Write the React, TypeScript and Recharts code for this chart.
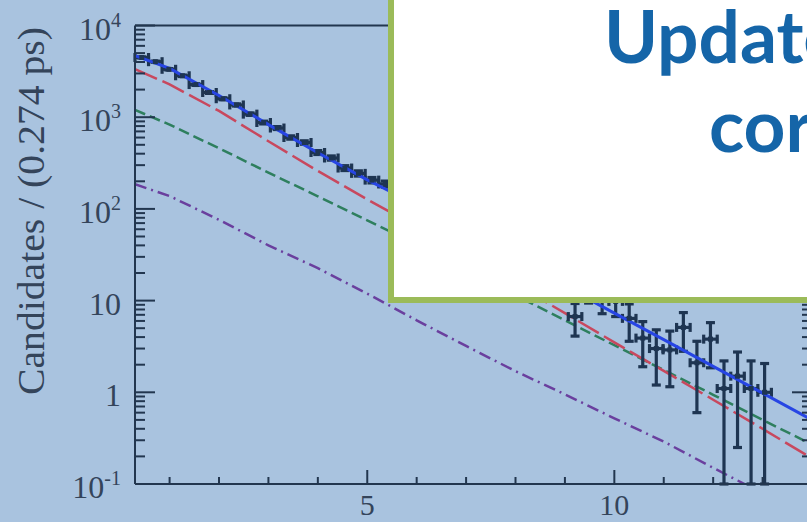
import React from "react";
import { ComposedChart, Line, Scatter, XAxis, YAxis, ErrorBar } from "recharts";

const X_MIN = 0.3;
const X_MAX = 14;
const Y_MIN = 0.1;
const Y_MAX = 10000;
const BIN_WIDTH = 0.274;

// candidates per 0.274 ps bin (bins 19-31 sit under the white box, estimated)
const binCounts = [
  4480, 4030, 3330, 2830, 2270, 1860, 1590, 1360, 1080, 875, 762, 601, 530, 412, 359, 279, 244, 206, 187,
  152, 128, 106, 84, 72, 57, 49, 38, 33, 26, 23, 17, 15,
  6.7, 13, 10.5, 9.8, 6.4, 3.9, 3.0, 2.9, 5.1, 2.1, 3.8, 1.1, 1.5, 1.1, 1.0,
];
const binErrors = [
  67, 63, 58, 53, 48, 43, 40, 37, 33, 30, 28, 25, 23, 20, 19, 17, 16, 14, 14,
  12, 11, 10, 9.2, 8.5, 7.5, 7, 6.2, 5.7, 5.1, 4.8, 4.1, 3.9,
  2.6, 3.6, 3.3, 3.1, 2.8, 2.0, 1.8, 1.75, 2.3, 1.5, 1.95, 1.1, 1.25, 1.1, 1.06,
];

// fit components, read at these decay times
const curveX = [0.3, 1, 2, 3, 4, 5, 6, 7, 8, 9, 10, 11, 12, 13, 14];
const totalFit = [4700, 3410, 1726, 830, 409, 207, 111, 56, 28.1, 14.3, 7.3, 3.75, 1.92, 0.98, 0.5];
const redComponent = [3350, 2280, 1170, 547, 259, 127, 64, 31, 15, 7.3, 3.5, 1.71, 0.83, 0.4, 0.19];
const greenComponent = [1200, 830, 458, 249, 137, 75, 41, 21.6, 11.4, 6.1, 3.26, 1.75, 0.94, 0.5, 0.27];
const purpleComponent = [186, 138, 76, 40, 22.6, 11.9, 6.1, 3.2, 1.7, 0.95, 0.52, 0.29, 0.15, 0.079, 0.043];

const xTicks = [1, 2, 3, 4, 5, 6, 7, 8, 9, 10, 11, 12, 13, 14];
const xMajorTicks = [5, 10];
const yMajorTicks = [0.1, 1, 10, 100, 1000, 10000];
const yTickLabels: Record<string, [string, string]> = {
  "0.1": ["10", "-1"],
  "1": ["1", ""],
  "10": ["10", ""],
  "100": ["10", "2"],
  "1000": ["10", "3"],
  "10000": ["10", "4"],
};

const yTicks: number[] = [];
yMajorTicks.forEach((m, i) => {
  yTicks.push(m);
  if (i < yMajorTicks.length - 1) for (let k = 2; k <= 9; k++) yTicks.push(m * k);
});

// lower error is stopped at the bottom of the frame so the log scale stays finite
const points = binCounts.map((v, i) => ({
  x: X_MIN + BIN_WIDTH * (i + 0.5),
  y: v,
  errY: [Math.min(binErrors[i], v - Y_MIN), binErrors[i]],
  errX: BIN_WIDTH / 2,
}));

const curves = curveX.map((x, i) => ({
  x,
  total: totalFit[i],
  red: redComponent[i],
  green: greenComponent[i],
  purple: purpleComponent[i],
}));

const AXIS = "#22364f";
const TEXT = "#34445a";
const DATA = "#1e3552";
const SERIF = "'Liberation Serif', 'Times New Roman', serif";

function isMajorY(v: number) {
  return yMajorTicks.some((m) => Math.abs(m - v) < m * 1e-6);
}

function LeftTick(props: any) {
  const { x, y, payload } = props;
  const major = isMajorY(payload.value);
  const lbl = yTickLabels[String(payload.value)];
  return (
    <g>
      <line x1={x} x2={x + (major ? 20 : 10)} y1={y} y2={y} stroke={AXIS} strokeWidth={2} />
      {major && lbl && (
        <text x={x - 14} y={y + 14} textAnchor="end" fontFamily={SERIF} fontSize={32} fill={TEXT}>
          <tspan>{lbl[0]}</tspan>
          {lbl[1] && (
            <tspan dy={-13} fontSize={20}>
              {lbl[1]}
            </tspan>
          )}
        </text>
      )}
    </g>
  );
}

function RightTick(props: any) {
  const { x, y, payload } = props;
  const major = isMajorY(payload.value);
  return <line x1={x} x2={x - (major ? 20 : 10)} y1={y} y2={y} stroke={AXIS} strokeWidth={2} />;
}

function BottomTick(props: any) {
  const { x, y, payload } = props;
  const major = xMajorTicks.includes(payload.value);
  return (
    <g>
      <line x1={x} x2={x} y1={y} y2={y - (major ? 14 : 7)} stroke={AXIS} strokeWidth={2} />
      {major && (
        <text x={x} y={y + 31} textAnchor="middle" fontFamily={SERIF} fontSize={30} fill={TEXT}>
          {payload.value}
        </text>
      )}
    </g>
  );
}

function TopTick(props: any) {
  const { x, y, payload } = props;
  const major = xMajorTicks.includes(payload.value);
  return <line x1={x} x2={x} y1={y} y2={y + (major ? 14 : 7)} stroke={AXIS} strokeWidth={2} />;
}

function YLabel() {
  return (
    <text
      transform="translate(44,211) rotate(-90)"
      textAnchor="middle"
      fontFamily={SERIF}
      fontSize={38}
      fill={TEXT}
      textLength={368}
      lengthAdjust="spacingAndGlyphs"
    >
      Candidates / (0.274 ps)
    </text>
  );
}

export default function App() {
  return (
    <div
      style={{
        position: "absolute",
        left: 0,
        top: 0,
        width: 807,
        height: 522,
        overflow: "hidden",
        background: "#a9c3df",
      }}
    >
      <ComposedChart width={830} height={522} margin={{ top: 0.5, right: 8, bottom: 0, left: 0 }}>
        <XAxis
          xAxisId="bottom"
          dataKey="x"
          type="number"
          domain={[X_MIN, X_MAX]}
          allowDataOverflow
          ticks={xTicks}
          interval={0}
          height={38}
          tickSize={0}
          tickMargin={0}
          tickLine={false}
          axisLine={{ stroke: AXIS, strokeWidth: 2 }}
          tick={<BottomTick />}
        />
        <XAxis
          xAxisId="top"
          orientation="top"
          type="number"
          domain={[X_MIN, X_MAX]}
          allowDataOverflow
          ticks={xTicks}
          interval={0}
          height={25}
          tickSize={0}
          tickMargin={0}
          tickLine={false}
          axisLine={{ stroke: AXIS, strokeWidth: 2 }}
          tick={<TopTick />}
        />
        <YAxis
          yAxisId="left"
          scale="log"
          type="number"
          domain={[Y_MIN, Y_MAX]}
          allowDataOverflow
          ticks={yTicks}
          interval={0}
          width={135}
          tickSize={0}
          tickMargin={0}
          tickLine={false}
          axisLine={{ stroke: AXIS, strokeWidth: 2 }}
          tick={<LeftTick />}
          label={{ content: <YLabel /> }}
        />
        <YAxis
          yAxisId="right"
          orientation="right"
          scale="log"
          type="number"
          domain={[Y_MIN, Y_MAX]}
          allowDataOverflow
          ticks={yTicks}
          interval={0}
          width={10}
          tickSize={0}
          tickMargin={0}
          tickLine={false}
          axisLine={{ stroke: AXIS, strokeWidth: 2 }}
          tick={<RightTick />}
        />
        <Line
          xAxisId="bottom"
          yAxisId="left"
          data={curves}
          dataKey="purple"
          stroke="#6a3f9e"
          strokeWidth={2.5}
          strokeDasharray="12 5 2 5"
          dot={false}
          isAnimationActive={false}
        />
        <Line
          xAxisId="bottom"
          yAxisId="left"
          data={curves}
          dataKey="green"
          stroke="#2e7f5e"
          strokeWidth={2.5}
          strokeDasharray="11 5"
          dot={false}
          isAnimationActive={false}
        />
        <Line
          xAxisId="bottom"
          yAxisId="left"
          data={curves}
          dataKey="red"
          stroke="#c8485e"
          strokeWidth={2.5}
          strokeDasharray="24 6"
          dot={false}
          isAnimationActive={false}
        />
        <Scatter
          xAxisId="bottom"
          yAxisId="left"
          data={points}
          dataKey="y"
          fill={DATA}
          isAnimationActive={false}
          shape={(p: any) => <rect x={p.cx - 2.5} y={p.cy - 2.5} width={5} height={5} fill={DATA} />}
        >
          <ErrorBar
            direction="y"
            dataKey="errY"
            width={4.5}
            strokeWidth={3.2}
            stroke={DATA}
            isAnimationActive={false}
          />
          <ErrorBar
            direction="x"
            dataKey="errX"
            width={4.5}
            strokeWidth={3.2}
            stroke={DATA}
            isAnimationActive={false}
          />
        </Scatter>
        <Line
          xAxisId="bottom"
          yAxisId="left"
          data={curves}
          dataKey="total"
          stroke="#2745e4"
          strokeWidth={3}
          dot={false}
          isAnimationActive={false}
        />
      </ComposedChart>

      <svg width={807} height={522} style={{ position: "absolute", left: 0, top: 0 }}>
        <rect x={391} y={-10} width={600} height={310} fill="#ffffff" stroke="#9bbb59" strokeWidth={6} />
        <text x={604} y={63} fontFamily="Lato, 'Open Sans', sans-serif" fontWeight={700} fontSize={73} fill="#1565a8">
          Update
        </text>
        <text x={709} y={152} fontFamily="Lato, 'Open Sans', sans-serif" fontWeight={700} fontSize={73} fill="#1565a8">
          cor
        </text>
      </svg>
    </div>
  );
}
